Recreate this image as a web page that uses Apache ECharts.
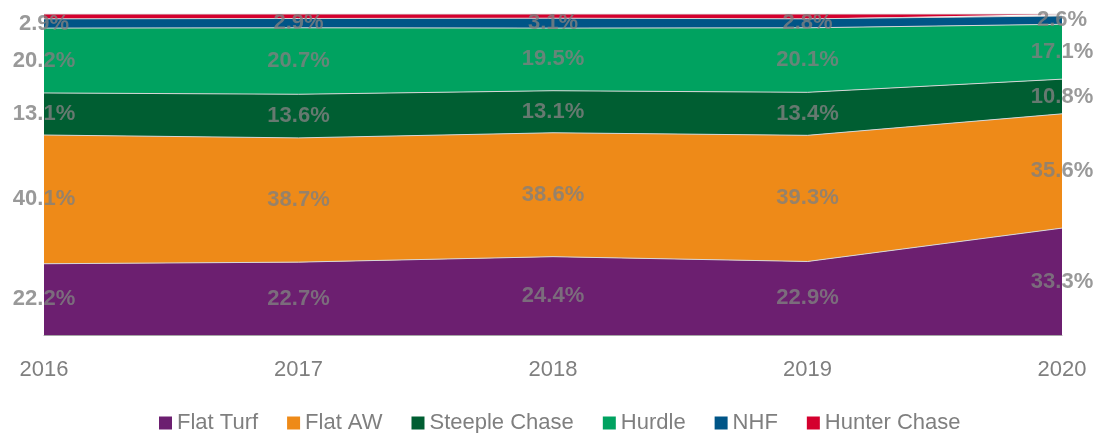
<!DOCTYPE html>
<html>
<head>
<meta charset="utf-8">
<script src="https://cdn.jsdelivr.net/npm/echarts@6/dist/echarts.min.js"></script>
<style>
  html, body { margin: 0; padding: 0; background: #fff; }
  #chart { width: 1095px; height: 433px; }
</style>
</head>
<body>
<div id="chart"></div>
<script>
  // == data ==
  const years = ['2016', '2017', '2018', '2019', '2020'];
  const flatTurf = [22.2, 22.7, 24.4, 22.9, 33.3];
  const flatAW = [40.1, 38.7, 38.6, 39.3, 35.6];
  const steepleChase = [13.1, 13.6, 13.1, 13.4, 10.8];
  const hurdle = [20.2, 20.7, 19.5, 20.1, 17.1];
  const nhf = [2.9, 2.9, 3.1, 2.8, 2.6];
  const hunterChase = [1.5, 1.4, 1.3, 1.5, 0.6];

  const FONT = '"Liberation Sans Narrow", "Arial Narrow", "Liberation Sans", Arial, sans-serif';
  const GREY = '#7f7f7f';

  const seriesDefs = [
    { name: 'Flat Turf', data: flatTurf, color: '#6c1f70', label: true },
    { name: 'Flat AW', data: flatAW, color: '#ee8a18', label: true },
    { name: 'Steeple Chase', data: steepleChase, color: '#005e32', label: true },
    { name: 'Hurdle', data: hurdle, color: '#00a260', label: true },
    { name: 'NHF', data: nhf, color: '#005587', label: true },
    { name: 'Hunter Chase', data: hunterChase, color: '#d4002e', label: false },
  ];

  const series = [];
  seriesDefs.forEach((s) => {
    series.push({
      name: s.name,
      type: 'line',
      stack: 'Total',
      symbol: 'none',
      color: s.color,
      lineStyle: { width: 1, color: '#d6d6d6' },
      areaStyle: { color: s.color, opacity: 1 },
      data: s.data,
    });
  });

  // == labels placed at the middle of each band ==
  const base = years.map(() => 0);
  seriesDefs.forEach((s) => {
    const pts = s.data.map((v, i) => [i, base[i] + v / 2, v]);
    s.data.forEach((v, i) => { base[i] += v; });
    if (!s.label) return;
    series.push({
      type: 'scatter',
      symbolSize: 0,
      silent: true,
      z: 5,
      data: pts,
      label: {
        show: true,
        position: 'inside',
        color: GREY,
        fontFamily: FONT,
        fontWeight: 'bold',
        fontSize: 22,
        formatter: (p) => p.data[2].toFixed(1) + '%',
      },
    });
  });

  const myChart = echarts.init(document.getElementById('chart'));
  const option = {
    animation: false,
    legend: {
      data: seriesDefs.map((s) => s.name),
      top: 407,
      left: 154,
      icon: 'rect',
      itemWidth: 13,
      itemHeight: 13,
      itemGap: 29,
      textStyle: { color: GREY, fontFamily: FONT, fontSize: 22 },
    },
    grid: { left: 44, right: 33, top: 14, bottom: 98 },
    xAxis: {
      type: 'category',
      boundaryGap: false,
      data: years,
      axisTick: { show: false },
      axisLine: { lineStyle: { color: '#a6a6a6' } },
      axisLabel: { color: GREY, fontFamily: FONT, fontSize: 22, margin: 24 },
    },
    yAxis: {
      type: 'value',
      min: 0,
      max: 100,
      show: false,
      splitLine: { show: false },
    },
    series: series,
  };
  option && myChart.setOption(option);
</script>
</body>
</html>
